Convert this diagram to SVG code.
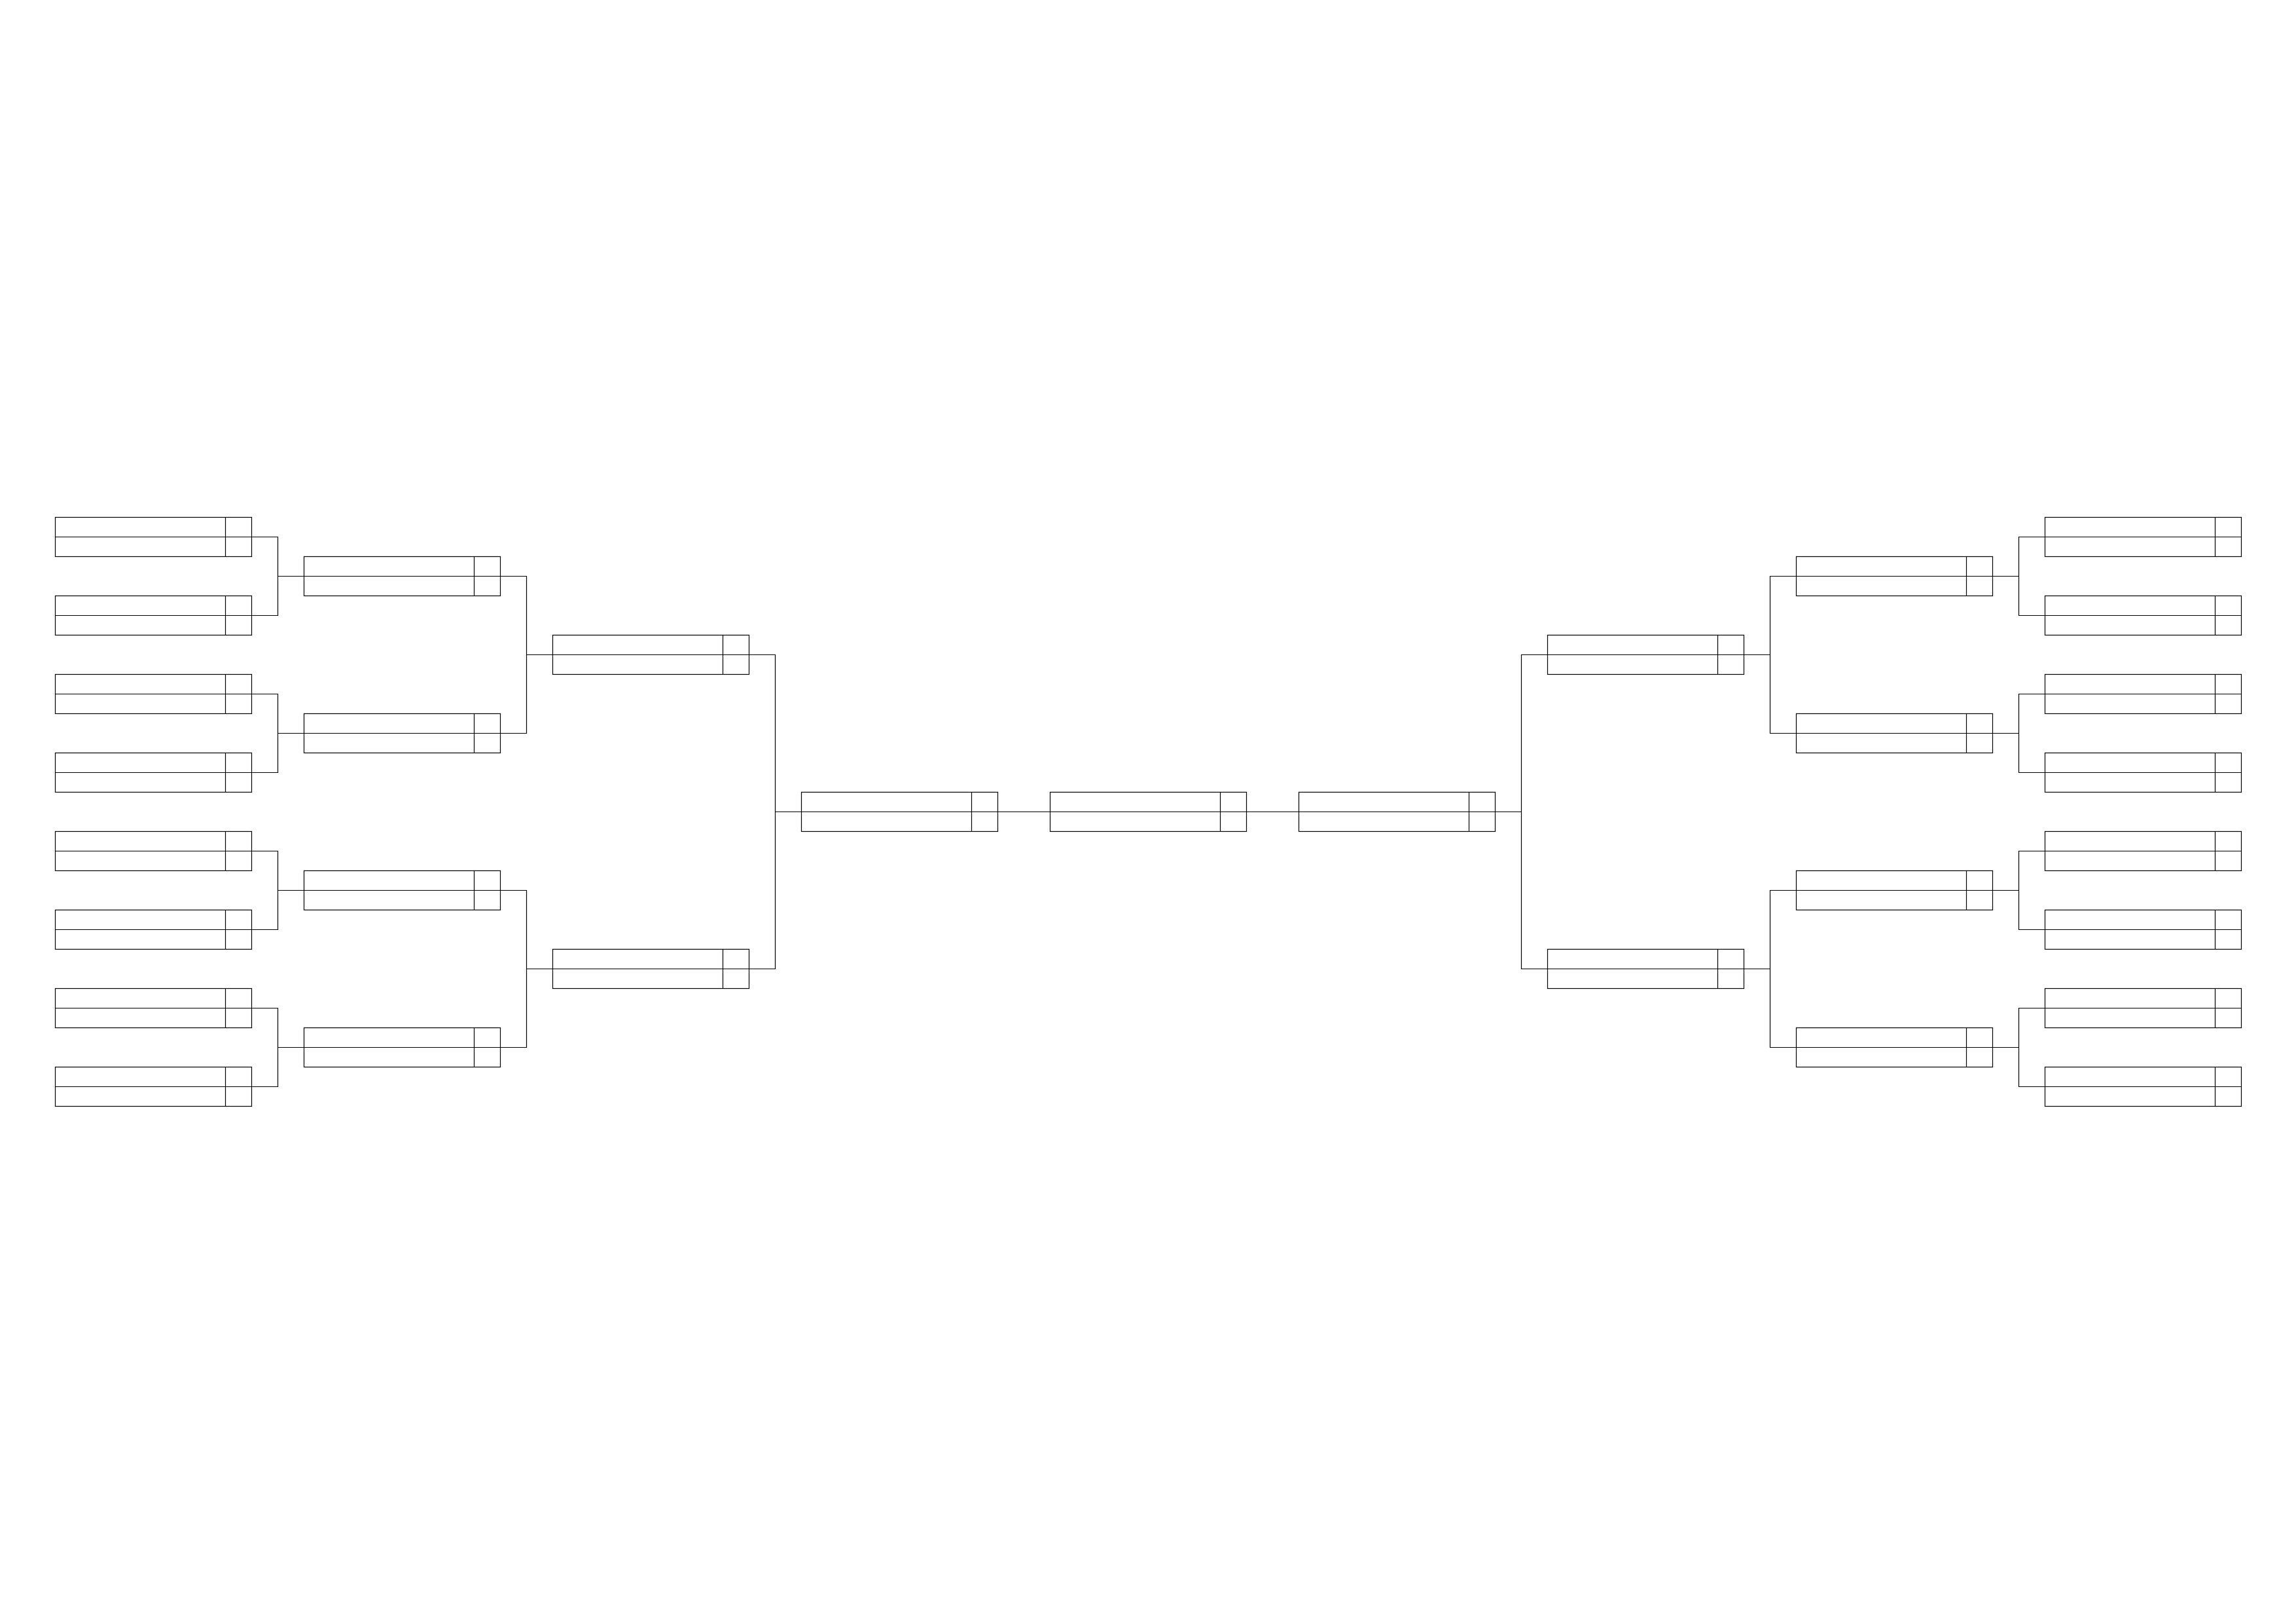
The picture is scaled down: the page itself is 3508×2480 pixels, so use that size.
<svg xmlns="http://www.w3.org/2000/svg" xmlns:xlink="http://www.w3.org/1999/xlink" width="3508" height="2480" viewBox="0 0 3508 2480">
<style>
.b{fill:none;stroke:#000;stroke-width:1.2}
.c{fill:none;stroke:#000;stroke-width:1.2}
</style>
<defs>
<g id="slot">
<rect class="b" x="0" y="0" width="300" height="60"/>
<line class="b" x1="0" y1="30" x2="300" y2="30"/>
<line class="b" x1="260" y1="0" x2="260" y2="60"/>
</g>
</defs>
<rect width="3508" height="2480" fill="#fff"/>
<g id="nodes" transform="translate(0.5,0.5)">
<g id="L1-1"><use xlink:href="#slot" x="84" y="790"/></g>
<g id="L1-2"><use xlink:href="#slot" x="84" y="910"/></g>
<g id="L1-3"><use xlink:href="#slot" x="84" y="1030"/></g>
<g id="L1-4"><use xlink:href="#slot" x="84" y="1150"/></g>
<g id="L1-5"><use xlink:href="#slot" x="84" y="1270"/></g>
<g id="L1-6"><use xlink:href="#slot" x="84" y="1390"/></g>
<g id="L1-7"><use xlink:href="#slot" x="84" y="1510"/></g>
<g id="L1-8"><use xlink:href="#slot" x="84" y="1630"/></g>
<g id="L2-1"><use xlink:href="#slot" x="464" y="850"/></g>
<g id="L2-2"><use xlink:href="#slot" x="464" y="1090"/></g>
<g id="L2-3"><use xlink:href="#slot" x="464" y="1330"/></g>
<g id="L2-4"><use xlink:href="#slot" x="464" y="1570"/></g>
<g id="L3-1"><use xlink:href="#slot" x="844" y="970"/></g>
<g id="L3-2"><use xlink:href="#slot" x="844" y="1450"/></g>
<g id="L4"><use xlink:href="#slot" x="1224" y="1210"/></g>
<g id="final"><use xlink:href="#slot" x="1604" y="1210"/></g>
<g id="R4"><use xlink:href="#slot" x="1984" y="1210"/></g>
<g id="R3-1"><use xlink:href="#slot" x="2364" y="970"/></g>
<g id="R3-2"><use xlink:href="#slot" x="2364" y="1450"/></g>
<g id="R2-1"><use xlink:href="#slot" x="2744" y="850"/></g>
<g id="R2-2"><use xlink:href="#slot" x="2744" y="1090"/></g>
<g id="R2-3"><use xlink:href="#slot" x="2744" y="1330"/></g>
<g id="R2-4"><use xlink:href="#slot" x="2744" y="1570"/></g>
<g id="R1-1"><use xlink:href="#slot" x="3124" y="790"/></g>
<g id="R1-2"><use xlink:href="#slot" x="3124" y="910"/></g>
<g id="R1-3"><use xlink:href="#slot" x="3124" y="1030"/></g>
<g id="R1-4"><use xlink:href="#slot" x="3124" y="1150"/></g>
<g id="R1-5"><use xlink:href="#slot" x="3124" y="1270"/></g>
<g id="R1-6"><use xlink:href="#slot" x="3124" y="1390"/></g>
<g id="R1-7"><use xlink:href="#slot" x="3124" y="1510"/></g>
<g id="R1-8"><use xlink:href="#slot" x="3124" y="1630"/></g>
</g>
<g id="connectors" class="c" transform="translate(0.5,0.5)">
<path d="M384 820H424V940H384M424 880H464"/>
<path d="M384 1060H424V1180H384M424 1120H464"/>
<path d="M384 1300H424V1420H384M424 1360H464"/>
<path d="M384 1540H424V1660H384M424 1600H464"/>
<path d="M764 880H804V1120H764M804 1000H844"/>
<path d="M764 1360H804V1600H764M804 1480H844"/>
<path d="M1144 1000H1184V1480H1144M1184 1240H1224"/>
<path d="M1524 1240H1604"/>
<path d="M1904 1240H1984"/>
<path d="M2364 1000H2324V1480H2364M2324 1240H2284"/>
<path d="M2744 880H2704V1120H2744M2704 1000H2664"/>
<path d="M2744 1360H2704V1600H2744M2704 1480H2664"/>
<path d="M3124 820H3084V940H3124M3084 880H3044"/>
<path d="M3124 1060H3084V1180H3124M3084 1120H3044"/>
<path d="M3124 1300H3084V1420H3124M3084 1360H3044"/>
<path d="M3124 1540H3084V1660H3124M3084 1600H3044"/>
</g>
</svg>
